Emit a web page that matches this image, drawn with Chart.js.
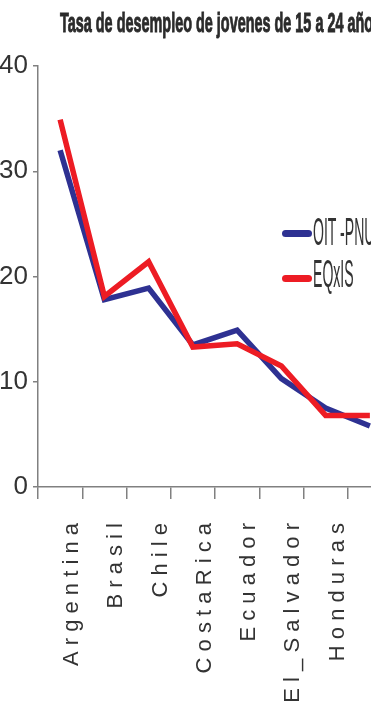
<!DOCTYPE html>
<html>
<head>
<meta charset="utf-8">
<script src="https://cdn.jsdelivr.net/npm/chart.js@4"></script>
<style>
  html, body { margin: 0; padding: 0; background: #fff; overflow: hidden; }
  #wrap { position: relative; width: 371px; height: 702px; overflow: hidden; }
  #grafico { position: absolute; left: 0; top: 0; }
  .titulo {
    position: absolute; left: 60px; top: 9px;
    font: bold 28px/28px "Liberation Sans", Arial, sans-serif;
    color: #2b2b2b; white-space: nowrap;
    -webkit-text-stroke: 1px #2b2b2b;
    transform: scaleX(0.515); transform-origin: 0 0;
  }
  .ley-barra { position: absolute; left: 282px; width: 30px; height: 7px; border-radius: 4px; }
  .ley-texto {
    position: absolute; left: 313px;
    font: 38px/38px "Liberation Sans", Arial, sans-serif;
    color: #333; white-space: nowrap;
    transform: scaleX(0.37); transform-origin: 0 0;
  }
</style>
</head>
<body>
<div id="wrap">
  <canvas id="grafico" width="400" height="702"></canvas>
  <div class="titulo">Tasa de desempleo de jovenes de 15 a 24 años</div>
  <div id="leyenda"></div>
</div>
<script>
// datos
const paises = ["Argentina", "Brasil", "Chile", "Costa Rica", "Ecuador", "El_Salvador", "Honduras", "México"];
const oitPnu = [32.0, 17.8, 18.9, 13.5, 14.9, 10.3, 7.5, 5.8];
const eqxis = [34.9, 18.1, 21.4, 13.3, 13.6, 11.5, 6.8, 6.8];
const ticksY = [0, 10, 20, 30, 40];

const series = [
  { nombre: "OIT -PNU", datos: oitPnu, color: "#2e3192" },
  { nombre: "EQxIS", datos: eqxis, color: "#ed1c24" }
];

const gris = "#808080";
const fuente = "'Liberation Sans', Arial, sans-serif";

// las etiquetas del eje x van con las letras separadas
const espaciar = txt => txt.replace(/ /g, "").split("").join(" ");

const leyenda = document.getElementById("leyenda");
leyenda.innerHTML = series.map((s, i) => `
  <div class="ley-barra" style="top:${230 + i * 45}px;background:${s.color}"></div>
  <div class="ley-texto" style="top:${213 + i * 42}px">${s.nombre}</div>
`).join("");

new Chart(document.getElementById("grafico"), {
  type: "line",
  data: {
    labels: paises,
    datasets: series.map((s, i) => ({
      label: s.nombre,
      data: s.datos,
      borderColor: s.color,
      backgroundColor: s.color,
      borderWidth: 5.5,
      borderCapStyle: "butt",
      borderJoinStyle: "miter",
      pointRadius: 0,
      tension: 0,
      order: series.length - i
    }))
  },
  options: {
    responsive: false,
    animation: false,
    layout: { padding: { left: 0, top: 66, right: 8, bottom: 0 } },
    plugins: {
      legend: { display: false },
      tooltip: { enabled: false }
    },
    scales: {
      x: {
        offset: true,
        grid: { offset: true, drawOnChartArea: false, tickLength: 12, color: gris, lineWidth: 1.5 },
        border: { color: gris, width: 1.5 },
        ticks: {
          autoSkip: false,
          minRotation: 90,
          maxRotation: 90,
          padding: 24,
          labelOffset: 12,
          color: "#333",
          font: { family: fuente, size: 22 },
          callback: (v, i) => espaciar(paises[i])
        },
        afterFit: s => {
          s.height = 215;
          s.paddingLeft = 0;
          s.paddingRight = 0;
        }
      },
      y: {
        min: 0,
        max: 40,
        afterBuildTicks: s => { s.ticks = ticksY.map(v => ({ value: v })); },
        grid: { drawOnChartArea: false, tickLength: 5, color: gris, lineWidth: 1.5 },
        border: { color: gris, width: 1.5 },
        ticks: {
          padding: 5,
          color: "#333",
          font: { family: fuente, size: 26 }
        },
        afterFit: s => { s.width = 38; }
      }
    }
  }
});
</script>
</body>
</html>
